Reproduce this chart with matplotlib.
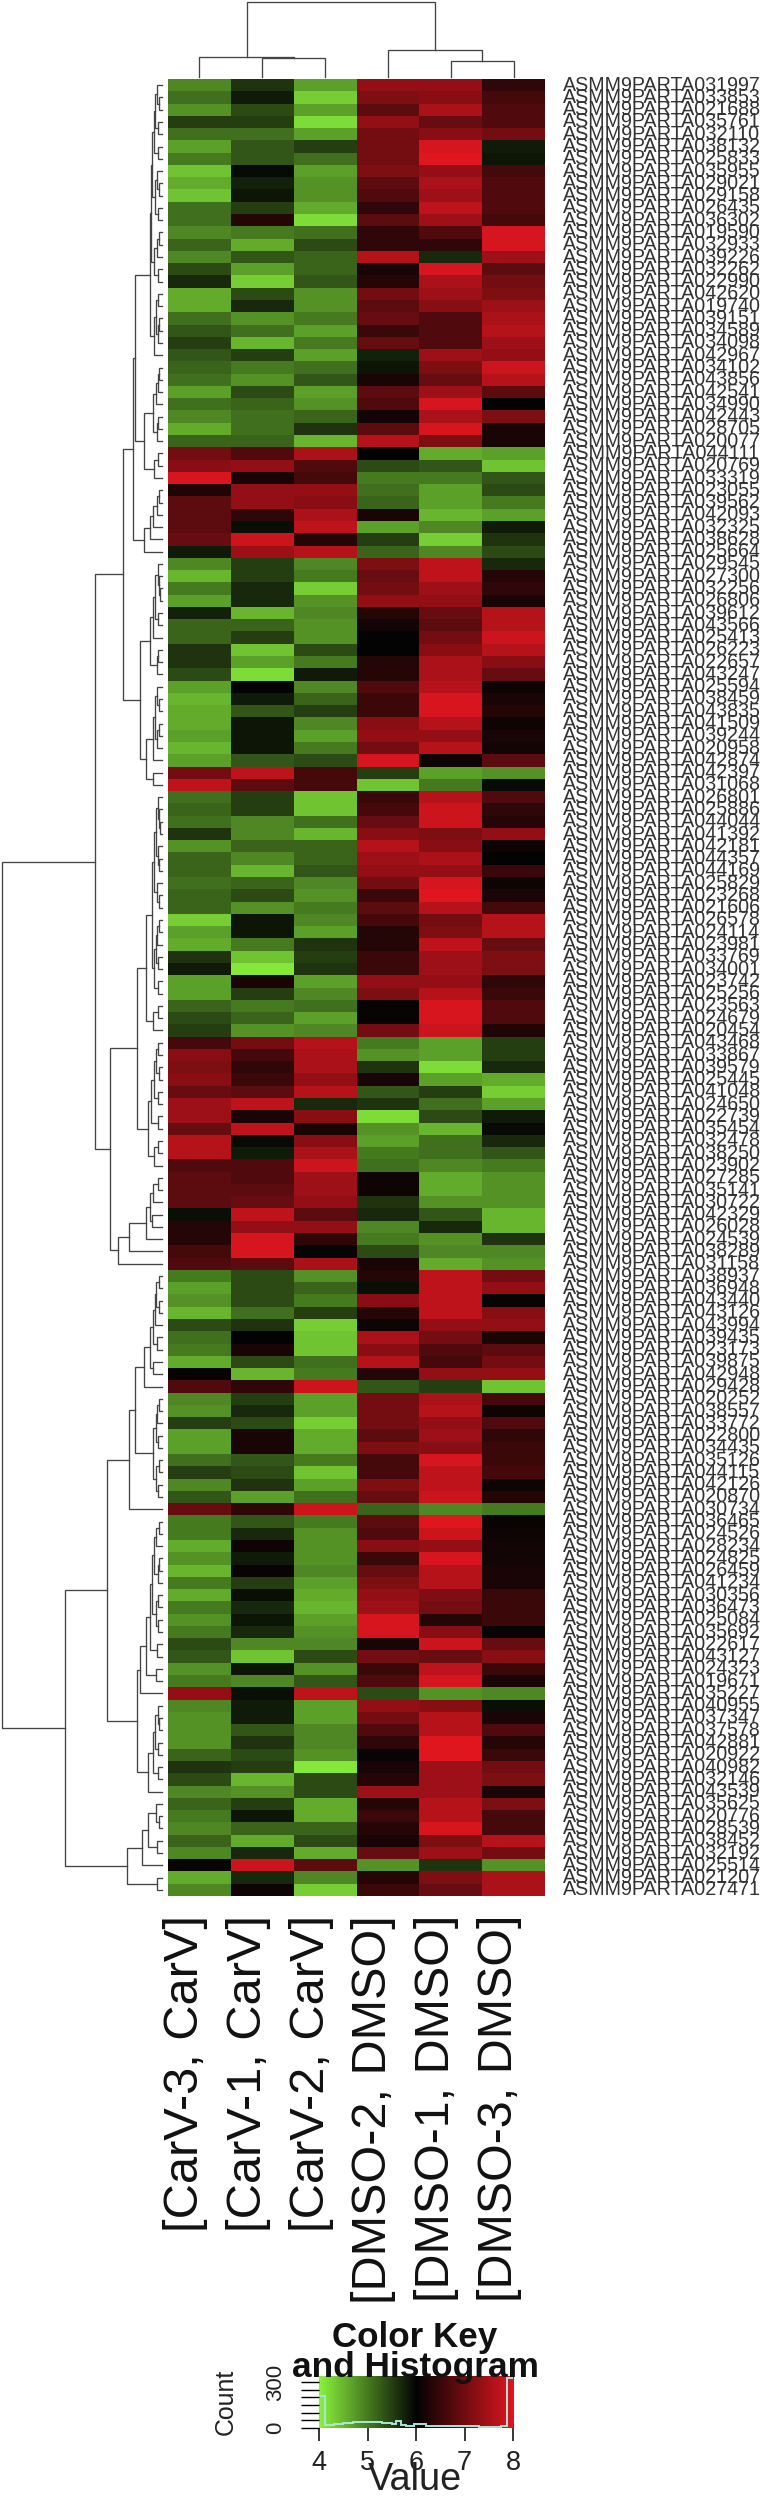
import matplotlib
matplotlib.use("Agg")
import numpy as np
import matplotlib.pyplot as plt
from matplotlib.colors import LinearSegmentedColormap

W, H = 764, 2498

plt.rcParams.update({
    "font.family": ["Liberation Sans", "DejaVu Sans"],
    "axes.linewidth": 0,
})

row_ids = [
    "031997", "033853", "021688", "035761", "032110", "038132", "025833", "035955", "029021", "029158",
    "026435", "036302", "019590", "032933", "039226", "032262", "022990", "042620", "019740", "039151",
    "034589", "034098", "042967", "034102", "043856", "042541", "034990", "042443", "028705", "020077",
    "044111", "020769", "033319", "023055", "039562", "042093", "032325", "038628", "025664", "029545",
    "027300", "032256", "026806", "039612", "043566", "025413", "026223", "022657", "043247", "025594",
    "038459", "043835", "041509", "039244", "020958", "042874", "042397", "031068", "026801", "025886",
    "044044", "041392", "042181", "044357", "044169", "025829", "023268", "021606", "026578", "024114",
    "023981", "033769", "034001", "023742", "025256", "023563", "024679", "020454", "043468", "033867",
    "039579", "025445", "041048", "024650", "022739", "035454", "032478", "038250", "023902", "027285",
    "035141", "030722", "042329", "026028", "024539", "038289", "031158", "038937", "036948", "043440",
    "043126", "043994", "039435", "023173", "039875", "042948", "029428", "020252", "038557", "033772",
    "022800", "034435", "035126", "044115", "042126", "020870", "030734", "036465", "024526", "028234",
    "024825", "026459", "041234", "030356", "036473", "025084", "035692", "022617", "043127", "024323",
    "019671", "035227", "040955", "037347", "037578", "042881", "020922", "040982", "032146", "043539",
    "035625", "020776", "028539", "038452", "032192", "025514", "021207", "027471",
]
col_labels = ["[CarV-3, CarV]", "[CarV-1, CarV]", "[CarV-2, CarV]",
              "[DMSO-2, DMSO]", "[DMSO-1, DMSO]", "[DMSO-3, DMSO]"]

carv3 = [
    4.9, 5.1, 4.8, 5.5, 5.1, 4.7, 5.0, 4.4, 4.6, 4.4, 5.1, 5.1, 4.9, 5.2, 4.9, 5.4, 5.7, 4.6, 4.6, 5.1, 5.3, 5.5, 5.3, 5.2, 5.1, 4.7,
    5.1, 4.9, 4.6, 5.2, 7.0, 7.2, 7.9, 6.25, 6.8, 6.8, 6.8, 6.9, 5.8, 4.9, 4.5, 5.0, 4.7, 5.75, 5.2, 5.2, 5.6, 5.6, 5.4, 4.7, 4.5, 4.6, 4.6, 4.7, 4.5, 4.7, 7.0, 7.7, 5.1,
    5.2, 5.1, 5.6, 4.8, 5.2, 5.2, 5.1, 5.2, 5.2, 4.3, 4.7, 4.6, 5.6, 5.8, 4.7, 4.7, 5.2, 5.4, 5.5, 6.6, 7.2, 7.1, 7.2, 6.9, 7.4, 7.4, 6.9, 7.6, 7.6, 6.7, 6.8, 6.8,
    6.8, 5.9, 6.3, 6.3, 6.6, 6.7, 5.0, 4.7, 4.8, 4.5, 5.4, 5.1, 5.0, 4.6, 6.05, 6.7, 4.9, 4.8, 5.5, 4.7, 4.7, 5.1, 5.5, 4.9, 5.3, 6.9, 5.0, 5.0, 4.6, 4.8, 4.5, 5.0, 4.6,
    5.0, 4.8, 5.0, 5.4, 5.3, 4.8, 5.0, 7.3, 4.9, 4.8, 4.8, 4.8, 5.2, 5.6, 5.4, 4.9, 5.2, 5.0, 4.9, 5.2, 4.9, 6.05, 4.6, 4.9,
]
carv1 = [
    5.6, 5.8, 5.4, 5.5, 5.1, 5.3, 5.3, 5.95, 5.75, 5.85, 5.5, 6.3, 5.0, 4.6, 5.3, 4.7, 4.3, 5.4, 5.7, 4.8, 5.1, 4.5, 5.5, 5.0, 4.8, 5.4,
    5.2, 5.1, 5.1, 5.2, 6.7, 7.3, 6.2, 7.3, 7.3, 6.4, 5.9, 7.8, 7.4, 5.5, 5.5, 5.7, 5.7, 4.5, 5.2, 5.5, 4.4, 4.7, 4.2, 6.0, 5.8, 5.3, 5.85, 5.85, 5.85, 5.3, 7.7, 6.8, 5.5,
    5.5, 4.9, 4.9, 5.2, 4.9, 4.5, 5.2, 5.4, 4.8, 5.85, 5.85, 5.0, 4.4, 4.1, 6.2, 5.5, 5.0, 5.2, 4.8, 7.0, 6.6, 6.4, 6.5, 6.8, 7.7, 6.2, 7.7, 5.95, 5.8, 6.7, 6.7, 6.8,
    6.9, 7.7, 7.3, 7.9, 7.9, 6.8, 5.4, 5.4, 5.4, 5.1, 5.6, 6.0, 6.2, 5.4, 4.5, 6.4, 5.5, 5.7, 5.4, 6.2, 6.2, 5.3, 5.4, 5.6, 4.7, 6.4, 5.3, 5.7, 6.1, 5.8, 6.05, 5.5, 5.9,
    5.7, 5.85, 5.7, 4.9, 4.4, 5.85, 4.9, 5.9, 5.8, 5.8, 5.3, 5.6, 5.4, 5.5, 4.5, 4.8, 5.5, 5.85, 5.2, 4.6, 5.7, 7.8, 5.7, 6.1,
]
carv2 = [
    4.7, 4.3, 4.7, 4.2, 4.7, 5.5, 5.1, 4.7, 4.8, 4.8, 4.6, 4.2, 5.1, 5.4, 5.2, 5.2, 5.3, 4.8, 4.8, 5.0, 4.7, 5.0, 4.7, 5.1, 5.3, 4.7,
    4.8, 5.2, 5.6, 4.5, 7.5, 6.7, 6.6, 7.3, 7.2, 7.5, 7.7, 6.3, 7.6, 4.9, 5.0, 4.3, 4.8, 4.9, 4.8, 4.8, 5.4, 5.0, 5.8, 4.9, 5.2, 5.5, 4.9, 4.7, 5.0, 5.4, 6.6, 6.6, 4.4,
    4.4, 5.1, 4.5, 5.2, 5.2, 5.3, 4.9, 4.8, 5.0, 4.9, 4.7, 5.6, 5.5, 5.6, 4.7, 4.9, 5.1, 4.7, 4.9, 7.6, 7.5, 7.5, 7.3, 7.6, 5.7, 7.2, 6.2, 7.2, 7.5, 7.8, 7.4, 7.4,
    7.3, 6.8, 7.3, 6.4, 6.05, 7.5, 4.8, 5.2, 5.0, 5.5, 4.3, 4.4, 4.4, 5.1, 5.0, 7.8, 4.7, 4.7, 4.3, 4.6, 4.6, 5.0, 4.4, 4.7, 5.1, 7.8, 5.0, 4.8, 4.8, 4.8, 4.9, 4.7, 4.6,
    4.5, 4.7, 4.8, 4.9, 5.4, 4.8, 5.3, 7.7, 4.7, 4.7, 4.9, 4.9, 4.8, 4.1, 5.4, 5.4, 4.6, 4.6, 5.2, 5.4, 4.6, 6.8, 4.9, 4.3,
]
dmso2 = [
    7.3, 7.1, 6.8, 7.3, 7.0, 7.0, 7.0, 7.1, 6.8, 6.7, 6.4, 6.8, 6.4, 6.4, 7.6, 6.2, 6.3, 7.0, 6.8, 6.9, 6.5, 6.9, 5.75, 5.85, 6.2, 6.8,
    6.7, 6.15, 6.8, 7.6, 6.0, 5.4, 5.0, 5.1, 5.2, 6.2, 4.7, 5.5, 5.2, 7.1, 6.9, 7.0, 7.3, 6.3, 6.15, 6.0, 6.0, 6.3, 6.3, 6.7, 6.5, 6.5, 7.2, 7.3, 7.0, 7.9, 5.5, 4.4, 6.5,
    6.6, 6.9, 7.2, 7.6, 7.4, 7.3, 7.0, 6.5, 6.8, 6.6, 6.3, 6.3, 6.5, 6.5, 7.3, 7.1, 6.05, 6.05, 7.0, 5.0, 4.8, 5.6, 6.2, 5.3, 5.6, 4.2, 4.8, 4.7, 5.0, 5.1, 6.1, 6.1,
    5.6, 5.7, 4.9, 5.0, 5.4, 6.2, 6.3, 5.9, 7.2, 6.3, 6.1, 7.5, 7.2, 7.6, 6.3, 5.3, 7.0, 7.0, 7.0, 6.8, 7.1, 6.6, 6.6, 7.1, 6.9, 5.2, 6.8, 6.7, 7.2, 6.5, 6.9, 7.1, 7.3,
    7.4, 7.9, 7.9, 6.2, 7.0, 6.5, 6.7, 5.4, 7.3, 7.0, 6.7, 6.4, 6.05, 6.2, 6.3, 7.4, 6.3, 6.5, 6.3, 6.2, 6.9, 4.8, 6.3, 6.5,
]
dmso1 = [
    7.3, 7.2, 7.5, 6.9, 7.2, 7.9, 8.0, 7.3, 7.5, 7.4, 7.7, 7.4, 6.7, 6.4, 5.7, 7.9, 7.5, 7.4, 7.2, 6.7, 6.7, 6.7, 7.4, 7.1, 6.9, 7.4,
    7.9, 7.5, 7.9, 7.1, 4.6, 5.3, 5.0, 4.7, 4.7, 4.5, 4.9, 4.3, 4.9, 7.7, 7.7, 7.4, 7.3, 6.9, 6.8, 7.0, 7.2, 7.5, 7.5, 7.6, 7.9, 7.9, 7.6, 7.3, 7.6, 6.1, 4.7, 5.0, 7.6,
    7.8, 7.8, 7.1, 7.2, 7.5, 7.3, 7.9, 8.0, 7.6, 7.0, 7.1, 7.7, 7.4, 7.4, 7.3, 7.6, 7.9, 7.9, 7.8, 4.7, 4.7, 4.2, 4.7, 5.5, 5.1, 5.4, 4.5, 5.1, 5.1, 4.9, 4.6, 4.6,
    4.8, 5.3, 5.7, 4.8, 4.9, 4.6, 7.7, 7.7, 7.7, 7.7, 7.3, 7.0, 6.7, 6.6, 7.3, 5.5, 7.5, 7.6, 7.3, 7.4, 7.2, 7.9, 7.7, 7.7, 7.8, 4.9, 8.0, 7.8, 7.3, 7.9, 7.6, 7.6, 7.1,
    7.0, 6.3, 7.2, 7.8, 6.9, 7.7, 7.9, 4.8, 7.2, 7.6, 7.6, 8.0, 8.0, 7.4, 7.4, 7.4, 7.6, 7.6, 7.9, 7.1, 7.4, 5.6, 7.1, 6.9,
]
dmso3 = [
    6.4, 6.6, 6.7, 6.7, 7.0, 5.8, 5.85, 6.6, 6.7, 6.7, 6.7, 6.6, 7.9, 7.9, 7.4, 6.8, 7.0, 7.1, 7.4, 7.5, 7.6, 7.4, 7.3, 7.8, 7.6, 6.8,
    6.0, 7.1, 6.2, 6.2, 4.7, 4.4, 5.3, 5.4, 5.0, 4.7, 5.8, 5.6, 5.4, 5.7, 6.3, 6.4, 6.2, 7.6, 7.6, 7.8, 7.6, 7.2, 6.9, 6.1, 6.2, 6.3, 6.1, 6.2, 6.15, 6.8, 4.8, 5.95, 6.7,
    6.4, 6.3, 7.3, 6.1, 6.0, 6.5, 6.1, 6.2, 6.6, 7.6, 7.6, 6.9, 7.1, 7.1, 6.4, 6.5, 6.7, 6.7, 6.25, 5.5, 5.5, 5.7, 4.6, 4.3, 4.7, 5.8, 5.95, 5.7, 5.3, 5.0, 4.8, 4.8,
    4.8, 4.5, 4.5, 5.6, 4.9, 4.8, 7.0, 7.3, 6.05, 7.2, 7.3, 6.2, 6.8, 7.0, 7.3, 4.4, 6.6, 6.1, 6.7, 6.4, 6.5, 6.5, 6.6, 6.1, 6.3, 5.0, 6.05, 6.1, 6.15, 6.15, 6.2, 6.2, 6.5,
    6.5, 6.5, 6.05, 6.9, 7.2, 6.5, 6.2, 4.9, 5.9, 6.2, 6.7, 6.3, 6.5, 7.0, 7.1, 6.2, 7.1, 6.6, 6.6, 7.6, 7.0, 4.8, 7.5, 7.5,
]

# dendrograms: [merge height, child, child], a leaf is the row/column index
col_tree = [75.5, [20, 0, [19, 1, 2]], [27, 3, [16, 4, 5]]]

t_0_16 = [11, [10, [8, [7, [5, 0, [3, 1, 2]], [4, 3, 4]], [4, 5, 6]], [7, [5, 7, [3, 8, 9]], [4, 10, 11]]],
          [8, [5, [3, 12, 13], 14], [4, 15, 16]]]
t_17_22 = [8, [6, [4, 17, 18], [4, [3, 19, 20], 21]], 22]
t_23_29 = [9, [6, [4, [3, 23, 24], 25], 26], [5, [4, 27, 28], 29]]
t_30_32 = [8, [4, 30, 31], 32]
t_33_38 = [18, [12, [9, [5, [3, 33, 34], 35], 36], 37], 38]
t_39_48 = [12, [9, [7, [4, 39, [3, 40, [2, 41, 42]]], [4, 43, 44]], 45], [5, [4, 46, 47], 48]]
t_49_57 = [16, [9, [7, [5, 49, [3, 50, 51]], [5, [3, 52, 53], 54]], 55], [9, 56, 57]]
t_58_67 = [8, [6, [4, 58, [3, 59, [2, 60, 61]]], [4, 62, [3, 63, 64]]], [5, 65, [3, 66, 67]]]
t_68_74 = [8, [6, [5, [3, 68, 69], 70], [4, 71, 72]], [4, 73, 74]]
t_75_77 = [9, [4, 75, 76], 77]
t_78_88 = [14, [11, [8, [6, [4, 78, 79], [3, 80, 81]], [4, 82, 83]], [4, 84, 85]], [8, [4, 86, 87], 88]]
t_89_96 = [44, [33, [16, [12, [9, [4, 89, 90], 91], [10, 92, 93]], 94], 95], 96]
t_97_106 = [18, [12, [9, [7, [6, [3, 97, 98], [3, 99, 100]], 101], [5, 102, 103]], [9, 104, 105]], 106]
t_107_115 = [9, [6, [5, [3, 107, 108], 109], [4, 110, 111]], [6, [3, 112, 113], [4, 114, 115]]]
t_117_128 = [12, [10, [8, [6, [3, 117, 118], 119], [4, [3, 120, 121], 122]], [6, [4, 123, 124], [4, 125, 126]]],
             [5, 127, 128]]
t_132_139 = [14, [9, [7, [4, 132, [3, 133, 134]], [4, 135, 136]], [4, 137, 138]], 139]
t_140_147 = [35, [20, [14, [6, 140, [3, 141, 142]], [5, 143, 144]], 145], [5, 146, 147]]

t_upper = [39, [29, [27, [12, t_0_16, t_17_22], [18, t_23_29, t_30_32]], t_33_38],
           [22, t_39_48, t_49_57]]
t_mid = [52, [25, [16, [10, t_58_67, t_68_74], t_75_77], t_78_88], t_89_96]
t_lower = [55, [33, [27, t_97_106, t_107_115], 116],
           [25, [22, [16, t_117_128, [6, 129, 130]], 131], t_132_139]]
row_tree = [160, [67, t_upper, t_mid], [97, t_lower, t_140_147]]

# histogram of the colour key
hist_edges = [4.0, 4.12, 4.3, 4.5, 4.7, 4.9, 5.1, 5.3, 5.5, 5.58, 5.7, 5.8, 5.95, 6.2, 6.4, 6.7, 7.0, 7.3, 7.6, 7.75, 7.88, 8.0]
hist_counts = [210, 18, 26, 33, 38, 42, 42, 32, 26, 48, 22, 14, 28, 16, 12, 10, 10, 8, 6, 12, 325]
key_ticks = [4, 5, 6, 7, 8]

cmap = LinearSegmentedColormap.from_list("greenred", ["#8AF23C", "#030303", "#E0161F"])
LINE = "#444444"


def px_axes(fig, x0, y0, x1, y1):
    return fig.add_axes([x0 / W, 1 - y1 / H, (x1 - x0) / W, (y1 - y0) / H])


def draw_tree(ax, node, horizontal):
    if isinstance(node, int):
        return node + 0.5, 0
    h, a, b = node
    pa, ha = draw_tree(ax, a, horizontal)
    pb, hb = draw_tree(ax, b, horizontal)
    if horizontal:
        ax.plot([ha, h, h, hb], [pa, pa, pb, pb], color=LINE, lw=0.95, solid_joinstyle="miter")
    else:
        ax.plot([pa, pa, pb, pb], [ha, h, h, hb], color=LINE, lw=0.95, solid_joinstyle="miter")
    return (pa + pb) / 2, h


def label(x, y, s, target, size=20, **kw):
    # text placed in picture pixels, font size scaled so its long side is target px
    t = fig.text(x / W, 1 - y / H, s, **kw)
    t.set_fontsize(size)
    box = t.get_window_extent(fig.canvas.get_renderer())
    t.set_fontsize(size * target / max(box.width, box.height))
    return t


fig = plt.figure(figsize=(W / 100, H / 100), dpi=100)

# heatmap
ax = px_axes(fig, 168, 79, 545, 1896)
values = np.array([carv3, carv1, carv2, dmso2, dmso1, dmso3]).T
ax.pcolormesh(np.arange(7), np.arange(len(row_ids) + 1), values, cmap=cmap, vmin=4, vmax=8)
ax.set_xlim(0, 6)
ax.set_ylim(len(row_ids), 0)
ax.set_xticks([])
ax.set_yticks([])

row_h = (1896 - 79) / len(row_ids)
for i, r in enumerate(row_ids):
    label(563, 79 + row_h * (i + 0.5), "ASMM9PARTA" + r, 197, ha="left", va="center", color="#333333")

col_w = (545 - 168) / len(col_labels)
col_len = [317, 317, 317, 387, 387, 387]
for i, s in enumerate(col_labels):
    label(168 + col_w * (i + 0.5) - 14, 1915, s, col_len[i], rotation=90, ha="center", va="top", color="#111111")

# row dendrogram
ax_r = px_axes(fig, 0, 79, 168, 1896)
draw_tree(ax_r, row_tree, True)
ax_r.set_xlim(162.5, -5.5)
ax_r.set_ylim(len(row_ids), 0)
ax_r.axis("off")

# column dendrogram
ax_c = px_axes(fig, 168, 0, 545, 79)
draw_tree(ax_c, col_tree, False)
ax_c.set_xlim(0, 6)
ax_c.set_ylim(-2, 77)
ax_c.axis("off")

# colour key
ax_k = px_axes(fig, 319, 2376, 513, 2428)
ax_k.imshow(np.linspace(4, 8, 256).reshape(1, -1), cmap=cmap, vmin=4, vmax=8, aspect="auto",
            extent=(4, 8, 0, 340))
ax_k.stairs(hist_counts, hist_edges, color="#A8E6DC", lw=1.4, baseline=None)
ax_k.set_xlim(4, 8)
ax_k.set_ylim(0, 340)
ax_k.set_xticks(key_ticks)
ax_k.set_xticklabels([str(t) for t in key_ticks], fontsize=19.5, color="#222222")
ax_k.tick_params(axis="x", length=9, width=1.1, pad=7)
ax_k.set_yticks(np.arange(0, 301, 50))
ax_k.set_yticklabels(["0", "", "", "", "", "", "300"], rotation=90, va="center", fontsize=16, color="#222222")
ax_k.tick_params(axis="y", length=13, width=1.0, pad=11)
label(415, 2338, "Color Key", 165, ha="center", va="center", fontweight="bold", color="#111111")
label(415, 2368, "and Histogram", 246, ha="center", va="center", fontweight="bold", color="#111111")
label(415, 2498, "Value", 94, ha="center", va="bottom", color="#222222")
label(226, 2402, "Count", 66, ha="center", va="center", rotation=90, color="#222222")

fig.savefig("out.png", dpi=100)
